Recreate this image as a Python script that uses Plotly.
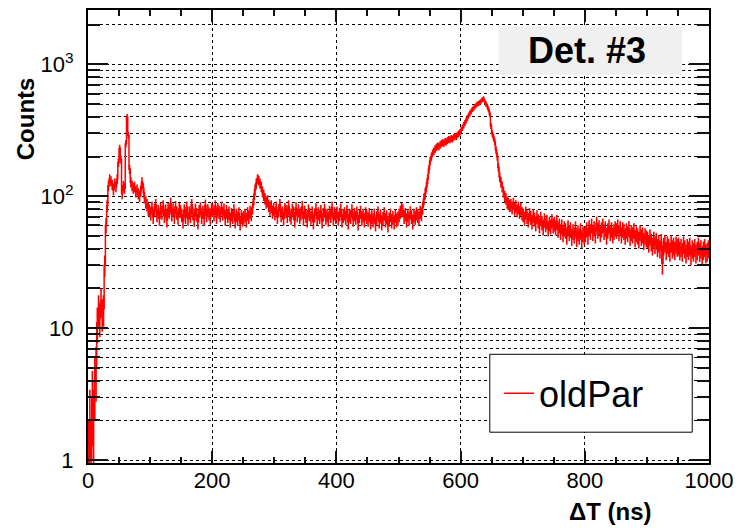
import numpy as np
import plotly.graph_objects as go

# 2 ns wide bins, 0..1000 ns
bin_width = 2.0
counts = [
    # 0-50
    1, 2, 1, 3, 2, 4, 5, 11, 14, 12, 16, 13, 14, 30, 60, 85, 120, 135, 130, 122, 112, 125, 118, 135, 180,
    # 50-100
    230, 190, 105, 120, 115, 250, 400, 290, 160, 128, 120, 115, 118, 108, 112, 105, 100, 110, 128, 115, 98, 90, 86, 80, 78,
    # 100-150
    74, 82, 70, 79, 86, 72, 77, 68, 81, 75, 84, 71, 78, 66, 80, 76, 88, 73, 79, 70, 83, 75, 69, 80, 77,
    # 150-200
    72, 65, 78, 70, 82, 68, 75, 71, 86, 74, 67, 79, 73, 64, 77, 81, 70, 76, 68, 85, 72, 78, 74, 69, 80,
    # 200-250
    78, 73, 84, 70, 80, 76, 72, 82, 74, 79, 68, 77, 71, 75, 66, 73, 70, 78, 65, 72, 68, 74, 63, 70, 67,
    # 250-300
    69, 72, 66, 74, 70, 76, 73, 82, 95, 112, 125, 135, 132, 125, 118, 108, 102, 96, 90, 92, 85, 80, 84, 76, 80,
    # 300-350
    74, 82, 70, 78, 86, 72, 75, 68, 80, 77, 71, 84, 73, 69, 79, 75, 66, 81, 72, 78, 70, 74, 83, 68, 76,
    # 350-400
    71, 66, 78, 73, 69, 75, 64, 72, 80, 68, 74, 70, 77, 65, 73, 79, 69, 72, 67, 76, 71, 82, 68, 74, 70,
    # 400-450
    75, 68, 73, 79, 66, 71, 74, 69, 77, 64, 72, 70, 78, 67, 73, 69, 75, 63, 71, 76, 68, 72, 66, 74, 70,
    # 450-500
    67, 73, 64, 70, 66, 72, 62, 69, 75, 65, 71, 63, 68, 74, 66, 70, 61, 67, 72, 65, 69, 64, 71, 66, 68,
    # 500-550
    72, 76, 80, 78, 70, 73, 66, 72, 68, 75, 70, 64, 72, 69, 74, 71, 68, 76, 73, 82, 95, 105, 118, 135, 160,
    # 550-600
    185, 200, 212, 220, 228, 235, 240, 238, 245, 250, 255, 252, 260, 258, 265, 270, 268, 275, 272, 280, 285, 283, 292, 298, 305,
    # 600-650
    318, 330, 345, 360, 375, 392, 410, 425, 440, 455, 465, 478, 490, 500, 505, 515, 525, 540, 548, 520, 500, 480, 455, 420, 340,
    # 650-700
    300, 280, 260, 225, 200, 165, 140, 128, 118, 108, 100, 96, 90, 88, 85, 86, 82, 88, 80, 84, 78, 82, 76, 80, 74,
    # 700-750
    72, 68, 75, 70, 66, 73, 69, 64, 71, 67, 62, 70, 65, 60, 68, 63, 58, 66, 61, 64, 57, 62, 59, 65, 60,
    # 750-800
    62, 58, 64, 56, 60, 54, 59, 52, 57, 55, 50, 58, 53, 56, 49, 54, 51, 57, 48, 53, 50, 55, 47, 52, 50,
    # 800-850
    52, 56, 50, 58, 54, 60, 53, 57, 51, 62, 55, 58, 52, 56, 60, 54, 57, 50, 55, 59, 53, 56, 51, 54, 57,
    # 850-900
    55, 59, 53, 57, 51, 56, 54, 50, 55, 52, 57, 49, 53, 51, 55, 48, 52, 50, 47, 53, 49, 51, 46, 50, 48,
    # 900-950
    47, 44, 49, 45, 42, 47, 43, 46, 41, 44, 40, 45, 31, 42, 44, 39, 43, 41, 38, 44, 40, 42, 39, 43, 41,
    # 950-1000
    42, 39, 41, 38, 43, 40, 37, 41, 39, 42, 36, 40, 38, 41, 37, 39, 42, 38, 40, 36, 39, 41, 37, 38, 40,
]
counts = np.array(counts, dtype=float)
centers = bin_width * (np.arange(len(counts)) + 0.5)
err_up = np.sqrt(counts)
err_down = np.minimum(err_up, counts * 0.95)

# vertical error segments (statistical sqrt(N) errors) as one broken line
ex, ey = [], []
for c, v, du, dd in zip(centers, counts, err_up, err_down):
    ex += [c, c, None]
    ey += [v - dd, v + du, None]

x_major = [0, 200, 400, 600, 800, 1000]
y_major = [1, 10, 100, 1000]
y_major_text = ["1", "10", "10<sup>2</sup>", "10<sup>3</sup>"]
y_minor = [m * 10 ** k for k in range(0, 4) for m in range(2, 10) if m * 10 ** k < 2600]

FONT = "Liberation Sans, Arial, Helvetica, sans-serif"
TICKC = "#111111"

fig = go.Figure()
fig.add_trace(go.Scatter(
    x=ex, y=ey, mode="lines", showlegend=False, hoverinfo="skip",
    line=dict(color="red", width=1.6), connectgaps=False,
))
fig.add_trace(go.Scatter(
    x=centers, y=counts, mode="lines", name="oldPar",
    line=dict(color="red", width=1.5, shape="hvh"),
))

fig.update_layout(
    width=741, height=528,
    margin=dict(l=88, r=27, t=8, b=65),
    paper_bgcolor="white", plot_bgcolor="white",
    font=dict(family=FONT, color="black"),
    showlegend=True,
    legend=dict(x=0.662, y=0.154, xanchor="left", yanchor="middle",
                bgcolor="rgba(0,0,0,0)", borderwidth=0,
                font=dict(size=36, family=FONT), itemwidth=30),
)

fig.update_xaxes(
    range=[0, 1000], tickmode="array", tickvals=x_major,
    ticks="inside", ticklen=12, tickwidth=2, tickcolor=TICKC,
    showline=True, linecolor="black", linewidth=2, mirror="ticks",
    showgrid=True, gridcolor="black", griddash="dot", gridwidth=1,
    tickfont=dict(size=22, family=FONT), ticklabelstandoff=-3,
    minor=dict(dtick=50, ticks="inside", ticklen=6, tickwidth=2, tickcolor=TICKC, showgrid=False),
    zeroline=False,
)
fig.update_yaxes(
    type="log", range=[np.log10(0.95), np.log10(2580)],
    tickmode="array", tickvals=y_major, ticktext=y_major_text,
    ticks="inside", ticklen=20, tickwidth=2, tickcolor=TICKC,
    showline=True, linecolor="black", linewidth=2, mirror="ticks",
    showgrid=True, gridcolor="black", griddash="dot", gridwidth=1,
    tickfont=dict(size=22, family=FONT), ticklabelstandoff=8,
    minor=dict(tickmode="array", tickvals=y_minor, ticks="inside", ticklen=12, tickwidth=2,
               tickcolor=TICKC, showgrid=True, gridcolor="black", griddash="dot", gridwidth=1),
    zeroline=False,
)

# Title box and legend frame
fig.add_shape(type="rect", xref="paper", yref="paper", x0=0.661, x1=0.957, y0=0.857, y1=0.963,
              fillcolor="#f0f0f0", line=dict(width=0), layer="above")
fig.add_shape(type="rect", xref="paper", yref="paper", x0=0.647, x1=0.973, y0=0.068, y1=0.240,
              fillcolor="white", line=dict(color="black", width=1), layer="above")

fig.add_annotation(text="<b>Det. #3</b>", xref="paper", yref="paper", x=0.804, y=0.91,
                   showarrow=False, font=dict(size=36, family=FONT), xanchor="center", yanchor="middle")
fig.add_annotation(text="<b>Counts</b>", xref="paper", yref="paper", x=-0.1006, y=0.76,
                   textangle=-90, showarrow=False, font=dict(size=24, family=FONT),
                   xanchor="center", yanchor="middle")
fig.add_annotation(text="<b>ΔT (ns)</b>", xref="paper", yref="paper", x=0.842, y=-0.1077,
                   showarrow=False, font=dict(size=24, family=FONT), xanchor="center", yanchor="middle")

fig.write_html("out.html")
